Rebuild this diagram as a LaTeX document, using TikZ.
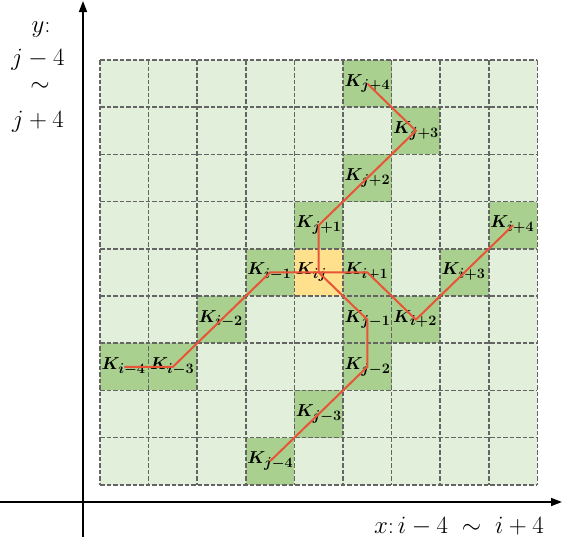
\documentclass[tikz,border=0pt]{standalone}
\usetikzlibrary{arrows.meta}
\definecolor{bgG}{RGB}{226,239,218}
\definecolor{hiG}{RGB}{169,208,142}
\definecolor{hiY}{RGB}{255,224,140}
\definecolor{gridC}{RGB}{100,100,100}
\definecolor{pathR}{RGB}{232,84,56}
\tikzset{
  cellbox/.style={rectangle, draw=none, inner sep=0pt, minimum width=48.6pt, minimum height=47.2pt},
  gridline/.style={draw=gridC, line width=1.6pt, dash pattern=on 4.5pt off 2pt},
  klab/.style={anchor=base west, inner sep=0pt, xshift=1.5pt, yshift=-2.5pt, font=\fontsize{19}{22}\selectfont\boldmath},
  redpath/.style={draw=pathR, line width=2pt, line join=miter},
  axis/.style={draw=black, line width=1.6pt, -{Triangle[length=11pt,width=8pt]}},
  axlab/.style={inner sep=0pt, font=\fontsize{23}{26}\selectfont}
}
\begin{document}
\begin{tikzpicture}[x=1pt,y=-1pt]
\useasboundingbox (0,0) rectangle (563,541);
% background grid area
\fill[bgG] (100,60) rectangle (537.4,484.8);
% highlighted cells (centre = 100+48.6*col+24.3, 60+47.2*row+23.6)
\node[cellbox, fill=hiY] (cij) at (318.7,272.4) {};
\node[cellbox, fill=hiG] (im1) at (270.1,272.4) {};
\node[cellbox, fill=hiG] (im2) at (221.5,319.6) {};
\node[cellbox, fill=hiG] (im3) at (172.9,366.8) {};
\node[cellbox, fill=hiG] (im4) at (124.3,366.8) {};
\node[cellbox, fill=hiG] (ip1) at (367.3,272.4) {};
\node[cellbox, fill=hiG] (ip2) at (415.9,319.6) {};
\node[cellbox, fill=hiG] (ip3) at (464.5,272.4) {};
\node[cellbox, fill=hiG] (ip4) at (513.1,225.2) {};
\node[cellbox, fill=hiG] (jp1) at (318.7,225.2) {};
\node[cellbox, fill=hiG] (jp2) at (367.3,178.0) {};
\node[cellbox, fill=hiG] (jp3) at (415.9,130.8) {};
\node[cellbox, fill=hiG] (jp4) at (367.3,83.6) {};
\node[cellbox, fill=hiG] (jm1) at (367.3,319.6) {};
\node[cellbox, fill=hiG] (jm2) at (367.3,366.8) {};
\node[cellbox, fill=hiG] (jm3) at (318.7,414.0) {};
\node[cellbox, fill=hiG] (jm4) at (270.1,461.2) {};
% dashed grid
\foreach \gk in {0,...,9}{
  \draw[gridline] ({100+48.6*\gk},60) -- ({100+48.6*\gk},484.8);
  \draw[gridline] (100,{60+47.2*\gk}) -- (537.4,{60+47.2*\gk});
}
% labels
\node[klab] (lcij) at (cij.west) {$K_{ij}$};
\node[klab] (lim1) at (im1.west) {$K_{i-1}$};
\node[klab] (lim2) at (im2.west) {$K_{i-2}$};
\node[klab] (lim3) at (im3.west) {$K_{i-3}$};
\node[klab] (lim4) at (im4.west) {$K_{i-4}$};
\node[klab] (lip1) at (ip1.west) {$K_{i+1}$};
\node[klab] (lip2) at (ip2.west) {$K_{i+2}$};
\node[klab] (lip3) at (ip3.west) {$K_{i+3}$};
\node[klab] (lip4) at (ip4.west) {$K_{i+4}$};
\node[klab] (ljp1) at (jp1.west) {$K_{j+1}$};
\node[klab] (ljp2) at (jp2.west) {$K_{j+2}$};
\node[klab] (ljp3) at (jp3.west) {$K_{j+3}$};
\node[klab] (ljp4) at (jp4.west) {$K_{j+4}$};
\node[klab] (ljm1) at (jm1.west) {$K_{j-1}$};
\node[klab] (ljm2) at (jm2.west) {$K_{j-2}$};
\node[klab] (ljm3) at (jm3.west) {$K_{j-3}$};
\node[klab] (ljm4) at (jm4.west) {$K_{j-4}$};
% red paths
\draw[redpath] (im4.center) -- (im3.center) -- (im2.center) -- (im1.center) -- (cij.center)
  -- (ip1.center) -- (ip2.center) -- (ip3.center) -- (ip4.center);
\draw[redpath] (jp4.center) -- (jp3.center) -- (jp2.center) -- (jp1.center) -- (cij.center)
  -- (jm1.center) -- (jm2.center) -- (jm3.center) -- (jm4.center);
% axes
\coordinate (ybot) at (83,537);
\coordinate (ytop) at (83,1);
\coordinate (xlft) at (0,502);
\coordinate (xrgt) at (562,502);
\draw[axis] (ybot) -- (ytop);
\draw[axis] (xlft) -- (xrgt);
% axis labels
\node[axlab, anchor=base] (ya) at (41,32) {$y$:};
\node[axlab, anchor=base] (yb) at (38,65) {$j-4$};
\node[axlab] (yc) at (40,87) {$\sim$};
\node[axlab, anchor=base] (yd) at (38,127) {$j+4$};
\node[axlab, anchor=base] (xa) at (459,533) {$x$:$\,i-4\;\sim\;i+4$};
\end{tikzpicture}
\end{document}
